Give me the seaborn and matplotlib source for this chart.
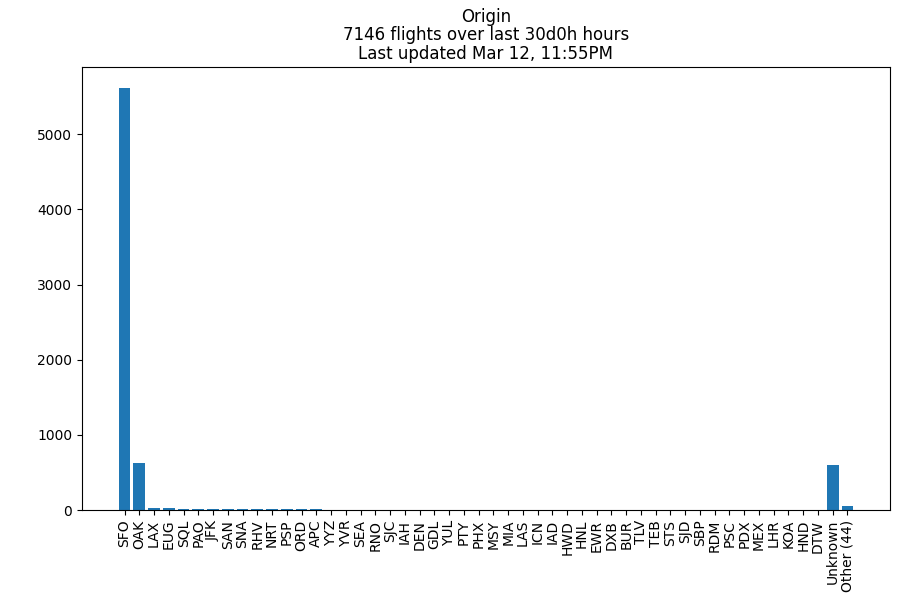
import matplotlib
matplotlib.use('Agg')
import matplotlib.pyplot as plt
import seaborn as sns

# --- Data ---
airports = ['SFO', 'OAK', 'LAX', 'EUG', 'SQL', 'PAO', 'JFK', 'SAN', 'SNA', 'RHV',
            'NRT', 'PSP', 'ORD', 'APC', 'YYZ', 'YVR', 'SEA', 'RNO', 'SJC', 'IAH',
            'DEN', 'GDL', 'YUL', 'PTY', 'PHX', 'MSY', 'MIA', 'LAS', 'ICN', 'IAD',
            'HWD', 'HNL', 'EWR', 'DXB', 'BUR', 'TLV', 'TEB', 'STS', 'SJD', 'SBP',
            'RDM', 'PSC', 'PDX', 'MEX', 'LHR', 'KOA', 'HND', 'DTW', 'Unknown', 'Other (44)']
counts = [5613, 625, 28, 26, 12, 11, 10, 10, 9, 9,
          8, 8, 8, 7, 6, 6, 5, 5, 5, 4,
          4, 4, 4, 4, 3, 3, 3, 3, 3, 3,
          3, 3, 3, 3, 2, 2, 2, 2, 2, 2,
          2, 2, 2, 2, 2, 2, 2, 2, 600, 57]

title = 'Origin\n7146 flights over last 30d0h hours\nLast updated Mar 12, 11:55PM'

# --- Plot ---
fig, ax = plt.subplots(figsize=(9, 6), dpi=100)
sns.barplot(x=airports, y=counts, color='#1f77b4', saturation=1, width=0.8, ax=ax)

# mimic matplotlib's default 5% x margins
n = len(airports)
pad = 0.05 * (n - 1 + 0.8)
ax.set_xlim(-0.4 - pad, n - 1 + 0.4 + pad)
ax.set_ylim(0, max(counts) * 1.05)

ax.set_title(title, linespacing=1.03)
ax.set_xlabel('')
ax.set_ylabel('')
ax.tick_params(axis='x', rotation=90)

plt.subplots_adjust(left=0.091, right=0.989, top=0.888, bottom=0.15)
plt.savefig('out.png', dpi=100)
